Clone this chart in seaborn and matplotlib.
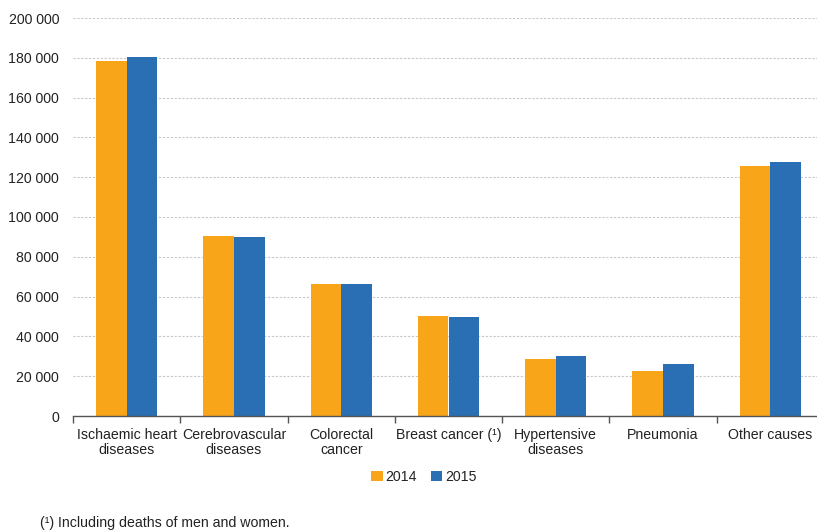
import matplotlib
matplotlib.use("Agg")
import matplotlib.pyplot as plt
import seaborn as sns
import pandas as pd
import numpy as np
from matplotlib.ticker import FuncFormatter, FixedLocator

categories = ["Ischaemic heart\ndiseases", "Cerebrovascular\ndiseases", "Colorectal\ncancer",
              "Breast cancer (¹)", "Hypertensive\ndiseases", "Pneumonia", "Other causes"]
deaths_2014 = [178200, 90600, 66500, 50300, 28700, 22700, 125600]
deaths_2015 = [180200, 89700, 66500, 49700, 30200, 26100, 127600]
years = ["2014", "2015"]
footnote = "(¹) Including deaths of men and women."

df = pd.DataFrame({
    "cause": categories * 2,
    "year": [years[0]] * len(categories) + [years[1]] * len(categories),
    "deaths": deaths_2014 + deaths_2015,
})

sns.set_theme(style="white")
plt.rcParams["font.family"] = ["Liberation Sans", "DejaVu Sans"]

fs = 10.2

fig = plt.figure(figsize=(8.17, 5.32), dpi=100)
ax = fig.add_axes([73 / 817, 1 - 416 / 532, (824 - 73) / 817, (416 - 18) / 532])

palette = {"2014": "#F9A51A", "2015": "#2A6EB4"}
sns.barplot(data=df, x="cause", y="deaths", hue="year", palette=palette,
            width=0.57, gap=0, saturation=1, linewidth=0, ax=ax, legend=True)

ax.set_ylim(0, 200000)
ax.set_xlim(-0.5, len(categories) - 0.5)
ax.set_yticks(np.arange(0, 200001, 20000))
ax.yaxis.set_major_formatter(FuncFormatter(lambda v, p: f"{int(v):,}".replace(",", " ")))
ax.grid(axis="y", color="#c8c8c8", linestyle=(0, (2, 1.5)), linewidth=0.8)
ax.set_axisbelow(True)

for s in ["top", "right", "left"]:
    ax.spines[s].set_visible(False)
ax.spines["bottom"].set_color("#555555")
ax.spines["bottom"].set_linewidth(1.0)

# category labels without ticks; separator ticks at category boundaries
ax.tick_params(axis="x", length=0, pad=8.5, labelsize=fs, colors="#222222")
ax.tick_params(axis="y", length=0, pad=10, labelsize=fs, colors="#222222")
for lbl in ax.get_xticklabels():
    lbl.set_linespacing(1.1)
ax.xaxis.set_minor_locator(FixedLocator(np.arange(-0.5, len(categories), 1.0)))
ax.tick_params(axis="x", which="minor", length=5, width=1.0, color="#555555", direction="out", bottom=True)
ax.set_xlabel("")
ax.set_ylabel("")

leg = ax.legend(loc="center", bbox_to_anchor=(424 / 817, 1 - 477 / 532),
                bbox_transform=fig.transFigure, ncol=2, frameon=False,
                handlelength=0.8, handleheight=0.8, handletextpad=0.2, columnspacing=1.0,
                fontsize=fs)
for t in leg.get_texts():
    t.set_color("#222222")

fig.text(40 / 817, 1 - 523 / 532, footnote, fontsize=fs, color="#222222", va="center", ha="left")

fig.savefig("out.png", dpi=100)
